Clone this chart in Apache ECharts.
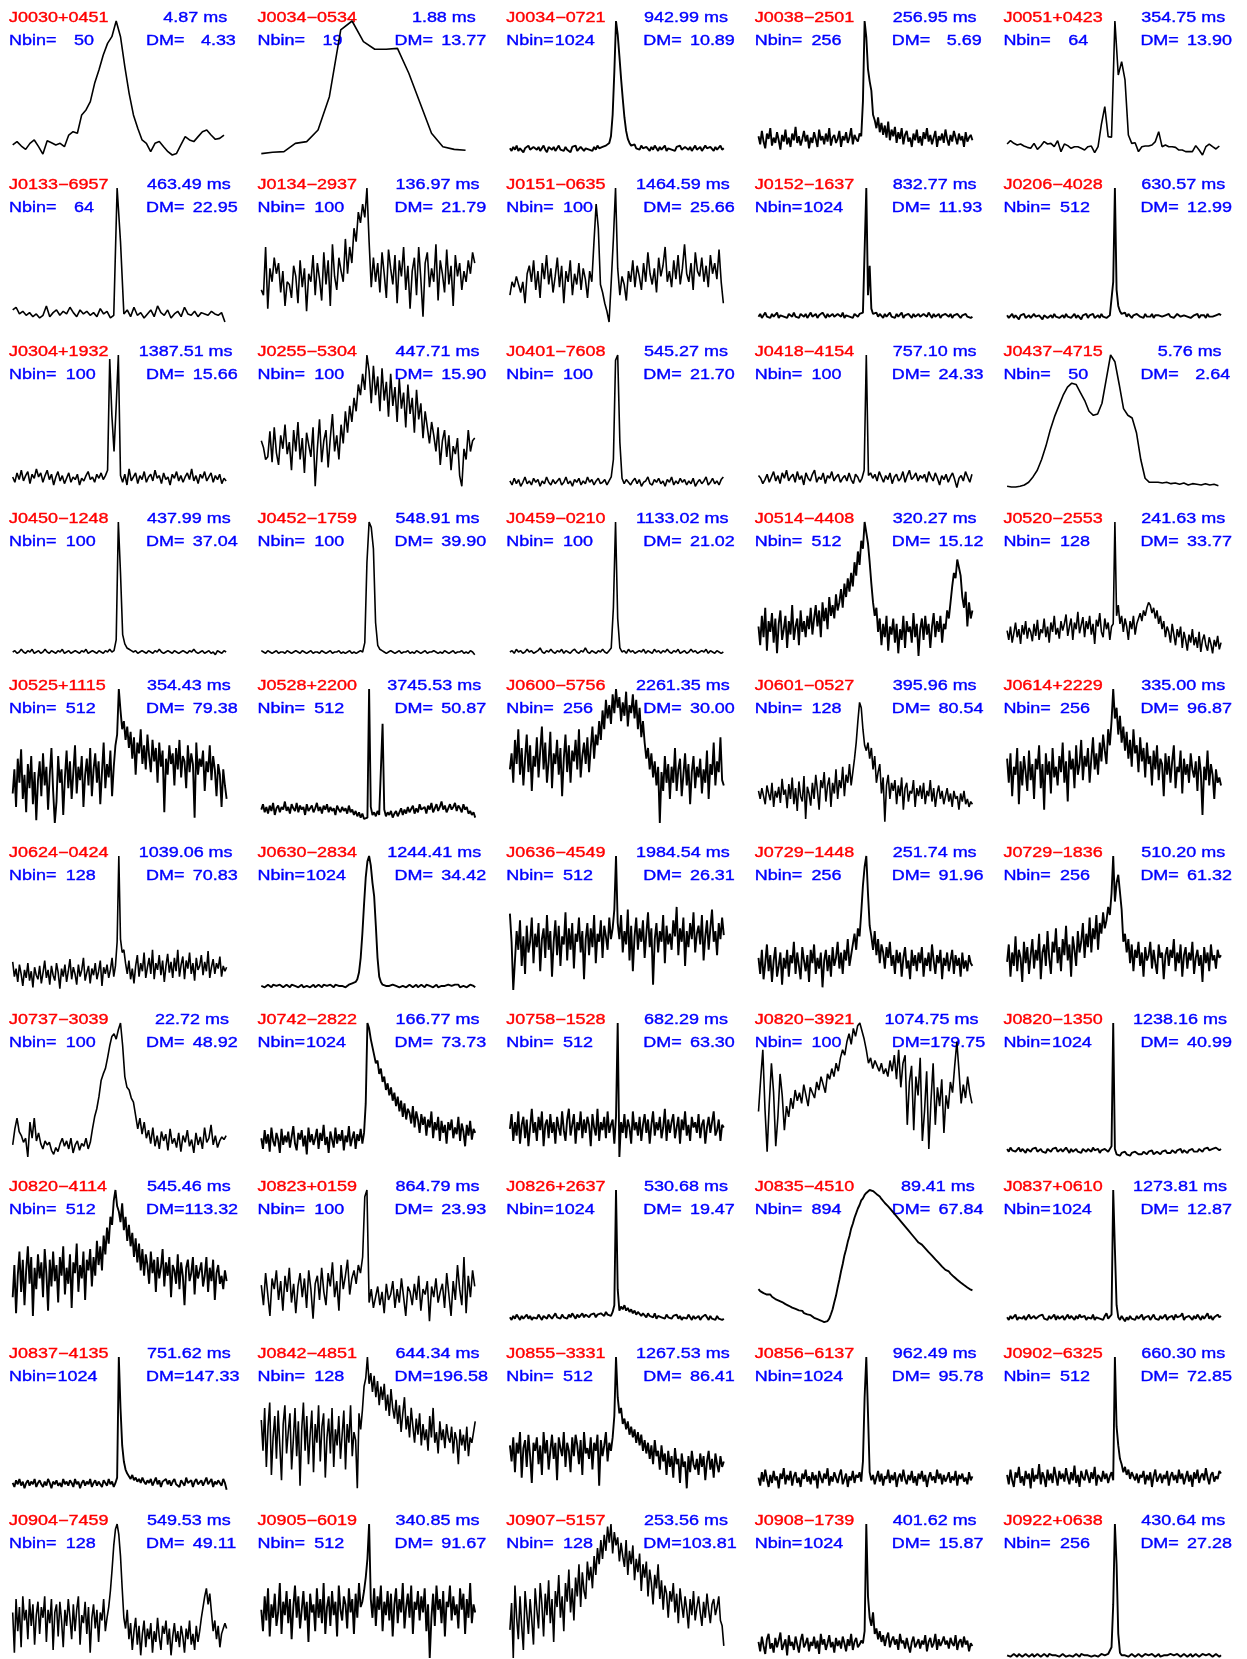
<!DOCTYPE html>
<html>
<head>
<meta charset="utf-8">
<script src="https://cdn.jsdelivr.net/npm/echarts@6/dist/echarts.min.js"></script>
<style>
html,body{margin:0;padding:0;background:#fff}
#chart{width:1247px;height:1659px}
</style>
</head>
<body>
<div id="chart"></div>
<script>
// Pulsar names, periods (ms), number of profile bins and dispersion measures, in panel order
const names = [
  'J0030+0451','J0034\u22120534','J0034\u22120721','J0038\u22122501','J0051+0423',
  'J0133\u22126957','J0134\u22122937','J0151\u22120635','J0152\u22121637','J0206\u22124028',
  'J0304+1932','J0255\u22125304','J0401\u22127608','J0418\u22124154','J0437\u22124715',
  'J0450\u22121248','J0452\u22121759','J0459\u22120210','J0514\u22124408','J0520\u22122553',
  'J0525+1115','J0528+2200','J0600\u22125756','J0601\u22120527','J0614+2229',
  'J0624\u22120424','J0630\u22122834','J0636\u22124549','J0729\u22121448','J0729\u22121836',
  'J0737\u22123039','J0742\u22122822','J0758\u22121528','J0820\u22123921','J0820\u22121350',
  'J0820\u22124114','J0823+0159','J0826+2637','J0835\u22124510','J0837+0610',
  'J0837\u22124135','J0842\u22124851','J0855\u22123331','J0856\u22126137','J0902\u22126325',
  'J0904\u22127459','J0905\u22126019','J0907\u22125157','J0908\u22121739','J0922+0638'
];
const periods = [
  4.87, 1.88, 942.99, 256.95, 354.75,
  463.49, 136.97, 1464.59, 832.77, 630.57,
  1387.51, 447.71, 545.27, 757.10, 5.76,
  437.99, 548.91, 1133.02, 320.27, 241.63,
  354.43, 3745.53, 2261.35, 395.96, 335.00,
  1039.06, 1244.41, 1984.54, 251.74, 510.20,
  22.72, 166.77, 682.29, 1074.75, 1238.16,
  545.46, 864.79, 530.68, 89.41, 1273.81,
  751.62, 644.34, 1267.53, 962.49, 660.30,
  549.53, 340.85, 253.56, 401.62, 430.64
];
const nbins = [
  50, 19, 1024, 256, 64,
  64, 100, 100, 1024, 512,
  100, 100, 100, 100, 50,
  100, 100, 100, 512, 128,
  512, 512, 256, 128, 256,
  128, 1024, 512, 256, 256,
  100, 1024, 512, 100, 1024,
  512, 100, 1024, 894, 1024,
  1024, 128, 512, 1024, 512,
  128, 512, 128, 1024, 256
];
const dms = [
  4.33, 13.77, 10.89, 5.69, 13.90,
  22.95, 21.79, 25.66, 11.93, 12.99,
  15.66, 15.90, 21.70, 24.33, 2.64,
  37.04, 39.90, 21.02, 15.12, 33.77,
  79.38, 50.87, 30.00, 80.54, 96.87,
  70.83, 34.42, 26.31, 91.96, 61.32,
  48.92, 73.73, 63.30, 179.75, 40.99,
  113.32, 23.93, 19.47, 67.84, 12.87,
  147.33, 196.58, 86.41, 95.78, 72.85,
  49.11, 91.67, 103.81, 15.87, 27.28
];

// Pulse profiles, intensity normalised to 0..100 (wide profiles resampled to 128 points)
const profiles = [
  // J0030+0451
  [7.5,10,6.7,4.2,8.7,11.2,6.2,0.7,10.7,9.2,7.5,8.7,6.2,14.9,17.4,16.2,29.9,33.6,39.8,53.5,
   63.4,74.6,83.3,88.3,100,88.3,65.9,46,29.9,19.9,11.2,8.7,2.5,8.7,10,6.2,2.5,0,1.2,7.5,
   13.7,11.2,10,13.7,17.4,18.7,14.9,11.7,12.4,14.9],
  // J0034-0534
  [1,2,2.5,8.7,10,18.7,43.5,93.3,100,84.6,78.9,78.9,79.6,61,38.6,16.2,6.2,4.2,3.5],
  // J0034-0721
  [5,3,6,4,7,3,5,6,2,5,4,7,4,3,6,5, 4,6,3,5,7,4,2,6,5,4,6,3,5,7,4,5,
   3,6,4,5,2,6,5,7,3,4,6,5,3,5,6,4, 5,3,6,4,7,5,4,6,5,7,6,9,14,30,62,100,
   90,74,57,42,28,18,12,9,7,6,8,5,6,4,7,5, 4,6,5,3,6,4,7,5,3,6,4,5,7,3,5,6,
   4,5,3,6,5,7,4,3,6,5,4,6,3,5,7,4, 5,6,3,4,7,5,4,6,5,3,6,4,5,7,4,5],
  // J0038-2501
  [14,8,18,10,5,16,12,20,7,13,9,17,11,4,15,10, 19,8,13,6,16,11,21,9,14,7,12,18,10,15,5,13,
   9,17,12,6,19,11,14,8,16,10,20,7,13,15,9,12, 18,6,14,11,17,9,13,20,8,15,12,10,16,14,40,100,
   88,64,55,48,30,26,20,28,17,24,15,22,13,25,11,19, 14,21,9,17,12,20,8,15,18,10,13,6,16,11,19,9,
   14,7,17,12,20,10,15,8,13,18,6,14,11,16,9,19, 12,7,15,10,18,13,8,16,11,14,6,17,10,13,15,11],
  // J0051+0423
  [8.2,10.7,8.7,7.5,8.2,6.7,5.7,5,8.7,4.2,6.7,10,8.2,8.7,6.2,10.7,2.5,8.2,7,5,
   6.2,6.2,5,3.7,6.2,6.7,1.7,6.2,23.1,36.1,13.7,13.2,100,59.7,69.7,56,14.9,8.7,9.2,2.5,
   6.2,6.7,6.7,7.5,10,17.4,6.2,7.5,6.2,6.2,5.7,3.7,3.7,2.5,2.5,2.5,7,3.7,0,6.2,
   8.2,6.2,4.5,6.7],

  // J0133-6957
  [9,11,6,8,5,7,4,6,3,5,12,4,7,9,5,8,6,11,7,4,9,6,8,5,7,4,10,6,8,3,5,100,
   60,6,9,4,11,5,7,3,6,9,4,12,7,5,9,3,6,8,4,11,6,5,8,4,7,6,5,8,6,5,7,0],
  // J0134-2937
  [24,20,56,10,40,30,48,36,44,22, 38,12,30,28,18,42,34,14,46,26, 40,8,36,30,50,20,44,32,16,52,
   28,46,12,58,34,24,48,38,30,62, 36,56,44,70,60,82,74,88,78,100, 60,26,48,30,44,22,52,36,18,54,
   40,28,50,14,46,34,56,24,42,10, 38,48,20,56,32,4,44,52,26,40, 30,58,16,46,36,22,54,28,42,12,
   50,34,44,24,38,30,46,36,52,44],
  // J0151-0635
  [20,30,26,34,28,22,30,14,36,42, 30,46,24,38,18,44,32,50,28,40, 22,34,48,26,42,14,38,30,46,20,
   36,28,44,24,40,32,18,38,30,60, 88,70,28,22,14,8,0,30,62,100, 40,20,34,28,16,38,30,46,26,42,
   34,24,44,30,52,36,28,40,22,48, 34,42,56,30,38,26,46,32,50,28, 40,58,36,30,44,24,52,38,34,48,
   30,42,26,50,36,44,32,54,30,14],
  // J0152-1637
  [4,6,3,5,7,4,5,3,6,4,5,7,3,5,6,4, 5,3,6,5,4,7,4,5,3,6,5,4,6,3,5,7,
   4,5,6,3,5,4,7,5,3,6,4,5,6,4,3,6, 5,4,7,3,5,6,4,5,3,6,5,4,6,5,7,8,
   100,20,42,10,6,5,7,4,6,5,3,6,4,5,7,4, 5,3,6,4,5,7,3,5,4,6,5,3,6,4,5,6,
   4,3,6,5,4,7,5,3,6,4,5,6,3,5,4,6, 5,4,6,3,5,4,6,5,3,5,4,6,4,5,3,4],
  // J0206-4028
  [5,3,4,6,3,5,4,2,5,4,6,3,4,5,3,4, 6,4,3,5,4,2,5,6,3,4,5,3,6,4,5,3,
   4,5,3,6,4,5,3,4,6,3,5,4,2,5,4,6, 3,5,4,6,3,4,5,3,6,4,5,3,4,5,6,30,
   100,24,12,8,6,5,7,4,6,5,3,5,4,6,5,4, 5,3,6,4,5,4,6,3,5,4,5,6,4,3,5,4,
   6,4,5,3,4,6,5,4,3,5,6,4,5,3,4,5, 4,6,3,5,4,5,3,6,4,5,4,3,5,4,6,5],

  // J0304+1932
  [9,5,12,7,14,6,10,13,4,11, 8,15,9,12,5,10,14,7,11,3, 9,13,6,10,4,8,12,5,9,7,
   11,3,8,6,10,13,7,9,5,11, 8,12,7,10,14,97,55,28,62,100, 10,5,11,3,15,6,9,12,4,10,
   7,13,5,9,11,6,14,8,10,4, 12,7,9,3,11,8,13,6,10,5, 9,12,7,15,6,10,4,11,8,13,
   6,9,12,5,10,7,11,4,8,6],
  // J0255-5304
  [36,31,22,24,43,20,46,27,18,40, 30,48,26,35,14,44,28,50,22,38, 12,42,33,24,46,2,30,52,20,36,
   44,16,38,56,28,40,22,48,34,58, 42,62,50,68,58,78,70,86,74,100, 88,64,92,70,84,58,90,66,80,54,
   86,62,76,50,82,60,72,46,78,56, 68,42,74,52,64,38,58,46,34,50, 40,28,46,18,36,44,24,40,14,32,
   26,38,10,2,30,22,44,28,36,38],
  // J0401-7608
  [6,3,8,4,7,2,5,9,4,6, 3,8,5,7,2,6,4,9,5,3, 7,4,6,8,3,5,9,4,6,2, 7,5,8,3,6,4,9,5,7,3,
   6,8,4,5,7,3,6,9,22,96, 100,35,8,4,7,5,3,6,8,4, 7,2,5,6,9,4,3,7,5,8, 4,6,2,7,5,9,3,6,4,8,
   5,7,3,6,4,8,2,5,7,4, 6,9,3,5,8,4,6,3,7,9],
  // J0418-4154
  [10,8,4,7,11,5,9,13,6,10, 4,12,8,14,6,9,11,5,13,7, 10,3,12,8,6,11,14,5,9,7, 12,4,10,8,13,6,9,11,5,8,
   10,6,12,7,4,11,9,5,8,14, 100,10,12,8,11,6,13,9,5,10, 7,12,4,9,11,6,8,13,5,10, 14,7,9,12,6,10,8,11,5,13,
   9,6,12,8,3,10,7,11,5,9, 12,7,1,8,10,6,13,9,5,11],
  // J0437-4715
  [2,1.5,1.5,2,3,5,9,14,22,32,44,54,62,70,76,79,78,72,66,58,55,56,64,82,100,
   95,78,60,55,53,42,22,8,5,5,5,4.5,5,4,4.5,3.5,4.5,3,4,3.5,3,4,3,3.5,2.5],

  // J0450-1248
  [3,4,2,3,5,3,2,4,3,5, 2,3,4,2,3,5,3,2,4,3, 2,4,3,5,2,3,4,2,3,4, 3,2,4,3,5,2,3,4,3,2,
   4,3,2,4,3,5,3,4,12,100, 62,16,9,6,5,4,3,4,2,3, 4,3,2,4,3,2,4,3,5,3, 2,3,4,3,2,4,3,2,3,4,
   3,2,4,3,5,3,2,3,4,2, 3,4,2,3,1,4,3,2,4,3],
  // J0452-1759
  [4,3,2,4,3,2,3,4,2,3, 3,2,4,3,2,3,4,3,2,4, 3,2,3,4,2,3,3,2,4,3, 2,3,4,2,3,3,4,2,3,2,
   3,4,2,3,2,3,4,3,10,70, 100,96,80,25,8,5,4,3,2,3, 4,3,2,3,4,2,3,3,4,2, 3,2,4,3,2,3,4,2,3,3,
   4,3,2,3,2,4,3,2,3,4, 2,3,3,4,2,3,2,4,3,1],
  // J0459-0210
  [3,4,2,5,3,4,2,3,5,3, 4,2,3,4,6,3,2,4,3,5, 3,2,4,3,5,2,4,3,2,4, 5,3,2,4,3,6,3,2,4,3,
   2,4,3,5,3,2,4,6,36,100, 28,6,3,4,2,5,3,4,2,3, 4,3,5,2,4,3,2,5,3,4, 2,4,3,5,3,2,4,3,5,2,
   3,4,2,3,5,3,4,2,3,4, 3,5,2,4,3,2,4,3,2,3],
  // J0514-4408
  [22,8,30,14,36,4,26,18,32,10,28,2,24,34,12,20, 30,6,26,16,38,12,22,28,8,34,18,26,14,30,20,36,
   16,28,38,22,34,14,40,26,36,20,44,30,38,28,46,34, 40,50,36,54,44,58,48,62,52,70,60,78,68,86,80,100,
   92,84,70,54,40,30,36,18,28,8,24,14,30,4,22,16, 28,10,24,2,20,12,30,6,26,18,22,10,32,14,24,0,
   20,28,12,30,16,24,6,22,32,14,26,18,30,10,24,20, 34,28,40,52,62,58,72,66,60,44,36,48,22,40,28,34],
  // J0520-2553
  [19,12,22,10,17,25,14,20,9,23,16,26,13,21,18,11, 24,15,27,12,20,17,28,14,22,10,25,18,30,16,21,13,
   26,19,24,31,15,22,28,12,25,20,33,17,23,29,14,26, 20,30,16,24,9,27,22,32,18,14,28,20,25,12,22,24,
   100,30,38,24,30,18,28,22,12,26,20,30,16,24,28,32, 26,34,30,36,40,38,32,36,28,34,24,30,20,26,14,22,
   18,10,24,16,8,20,14,22,6,18,12,4,16,10,20,8, 14,6,18,3,12,16,8,4,14,9,2,12,7,15,5,10],

  // J0525+1115
  [22,40,12,48,30,55,18,36,8,44,26,50,14,38,2,32, 46,20,52,28,42,10,36,56,24,0,16,50,30,40,6,34,
   54,26,46,18,38,58,22,42,32,50,12,36,48,28,56,20, 40,52,30,46,14,38,60,26,44,34,54,20,42,58,66,100,
   84,70,76,62,72,56,68,48,64,36,60,52,70,44,58,40, 66,50,38,62,46,56,30,60,42,54,8,48,36,58,44,52,
   28,56,40,62,34,50,46,26,58,38,52,44,4,60,36,48, 42,54,24,46,38,58,32,50,40,20,44,36,12,40,28,18],
  // J0528+2200
  [10,14,8,12,7,13,9,15,6,11,13,8,12,10,16,9, 12,7,14,11,9,15,8,13,10,12,6,14,9,11,13,8,
   11,15,9,12,7,13,10,14,8,12,9,11,6,13,10,8, 12,9,11,7,13,8,10,6,9,5,8,4,7,3,2,4,
   100,12,6,8,5,9,6,7,74,10,5,8,6,9,4,7, 9,5,8,11,6,10,7,12,8,9,13,7,11,8,14,10,
   9,12,7,13,10,15,8,11,14,9,12,16,10,13,8,11, 14,10,12,15,9,13,11,8,14,10,12,7,9,6,8,4],
  // J0600-5756
  [40,52,30,62,44,70,36,56,28,48,66,38,58,24,50,42, 64,34,54,72,40,60,30,46,68,26,52,44,62,36,56,20,
   48,66,38,58,30,54,46,62,40,70,34,50,60,44,64,38, 56,72,48,66,58,76,62,84,70,92,78,88,74,96,82,100,
   86,94,76,90,80,98,72,88,82,96,78,92,70,86,64,76, 60,48,56,40,52,34,46,28,42,0,38,24,50,30,44,18,
   42,30,56,24,40,48,20,36,52,28,44,14,38,50,26,42, 34,48,22,40,30,54,18,44,36,60,28,46,38,64,32,28],
  // J0601-0527
  [24,18,26,20,14,28,22,17,30,12,24,19,27,15,33,21, 25,11,29,18,34,14,26,9,31,20,16,35,3,27,22,13,
   30,18,36,24,10,32,26,38,16,28,34,12,30,22,40,18, 32,26,42,20,36,30,44,28,38,48,60,76,90,86,70,58,
   54,60,48,56,40,50,30,38,44,22,34,1,28,36,18,30, 24,32,14,28,20,34,10,26,30,16,24,22,32,12,26,20,
   28,18,30,14,24,20,32,16,26,12,22,28,18,24,14,20, 26,16,22,12,24,18,20,10,22,16,24,14,18,12,16,14],
  // J0614+2229
  [48,30,52,20,42,36,56,14,46,28,50,38,24,54,32,44, 18,48,40,58,26,44,10,52,36,46,22,56,34,42,28,50,
   38,60,30,46,16,54,40,48,26,58,36,44,62,32,50,42, 56,30,48,64,40,52,36,60,46,66,54,44,70,58,76,100,
   78,86,66,80,60,72,54,68,48,62,42,70,52,58,38,64, 46,56,34,60,44,50,28,54,40,58,32,48,44,20,52,36,
   50,30,46,58,26,42,38,54,22,48,36,44,30,52,40,34, 46,24,50,38,6,42,32,54,28,44,36,18,40,30,34,28],

  // J0624-0424
  [21,10,16,6,19,12,3,15,9,20,7,14,2,17,11,8, 18,5,13,22,9,15,4,18,11,7,20,13,1,16,10,19,
   6,14,23,8,17,12,4,19,10,15,24,7,13,18,5,16, 11,20,8,14,22,3,17,12,19,9,15,24,10,18,36,100,
   38,28,30,20,12,22,8,16,5,18,26,10,20,14,28,9, 17,24,12,30,8,20,15,26,11,22,6,18,27,13,21,9,
   24,14,30,10,19,25,8,22,16,28,12,20,7,24,15,18, 26,11,21,14,29,9,17,23,12,20,16,25,10,18,14,17],
  // J0630-2834
  [3,4,2,3,4,3,2,4,3,3,2,4,3,2,3,4, 3,2,4,3,3,4,2,3,4,2,3,3,4,2,3,4,
   2,3,4,3,2,4,3,3,2,4,3,2,4,3,3,4, 3,4,2,3,4,3,5,4,6,8,13,24,42,64,84,96,
   100,93,80,70,48,24,10,6,4,5,3,4,3,2,4,3, 3,4,2,3,3,4,2,3,4,3,2,3,4,2,3,4,
   3,2,4,3,3,4,2,3,4,2,3,3,4,3,2,4, 3,3,2,4,3,4,2,3,3,4,2,3,4,3,3,2],
  // J0636-4549
  [57,36,0,22,44,30,52,18,40,12,48,28,36,54,20,42, 32,50,14,38,46,24,56,30,44,10,36,52,26,48,18,40,
   34,58,22,46,30,50,16,42,36,54,28,44,8,38,50,26, 46,32,56,20,42,36,52,24,48,40,30,54,38,46,60,100,
   50,38,56,28,44,34,60,22,48,14,40,54,30,46,36,52, 24,42,58,32,46,4,38,50,28,44,36,56,20,48,34,42,
   30,52,40,62,26,46,36,54,18,44,32,50,38,58,28,42, 48,34,56,22,40,52,30,46,60,36,44,26,50,38,54,41],
  // J0729-1448
  [24,12,30,8,20,34,14,26,6,22,32,10,18,28,4,24, 16,30,10,26,20,36,12,28,18,8,32,22,14,26,6,30,
   20,34,12,24,16,28,2,22,30,14,26,10,32,18,24,36, 16,28,12,30,22,38,18,26,34,42,30,46,40,58,78,92,
   100,72,48,40,30,44,26,38,20,34,28,16,32,24,36,18, 26,12,30,20,28,10,24,32,16,22,8,30,18,26,14,28,
   20,32,10,24,18,28,14,34,22,12,26,20,30,8,24,18, 28,14,22,30,12,26,18,24,10,28,16,22,14,26,20,18],
  // J0729-1836
  [21,34,10,28,18,40,14,30,24,6,36,20,32,12,26,38, 16,30,22,42,8,28,34,18,44,24,12,36,28,46,20,32,
   14,38,26,48,22,34,10,40,30,18,44,28,36,50,24,42, 32,54,28,46,38,56,30,50,42,58,46,52,62,56,72,100,
   66,80,86,73,60,36,42,28,38,20,34,14,30,24,36,18, 28,10,32,22,26,36,16,30,20,12,34,24,28,8,26,32,
   18,30,24,38,14,28,20,34,10,26,32,16,28,22,36,12, 24,30,18,26,6,32,20,28,14,34,22,26,16,30,24,26],

  // J0737-3039
  [9,21,29,19,16,11,14,0,26,14, 29,12,18,10,6,12,9,11,5,2, 7,4,10,14,8,12,6,14,3,9,
   12,5,10,8,14,6,11,21,30,36, 45,57,62,66,74,83,90,92,88,95, 100,83,60,52,50,44,41,31,21,29,
   17,26,14,20,10,22,8,16,6,19, 12,17,5,21,10,14,7,18,4,16, 11,20,8,13,3,18,9,15,6,22,
   11,14,24,9,16,7,12,15,13,16],
  // J0742-2822
  [14,6,20,10,17,4,22,12,8,18,13,3,21,9,16,11, 19,7,15,23,10,5,18,13,20,8,16,2,22,11,17,9,
   14,21,6,18,12,24,9,15,3,19,13,7,22,10,17,12, 20,5,16,11,23,8,14,19,6,17,12,21,10,18,40,100,
   96,88,82,76,70,72,62,66,56,60,50,55,46,52,42,48, 38,45,34,42,30,40,28,36,33,25,38,22,34,28,18,32,
   24,30,16,28,22,34,14,26,20,30,12,27,18,24,10,26, 20,28,14,22,17,30,12,25,19,8,24,16,27,13,21,18],
  // J0758-1528
  [21,32,12,26,16,34,10,24,30,14,28,8,22,36,18,26, 12,30,20,34,8,24,28,14,32,18,26,10,30,22,16,34,
   20,12,28,36,16,24,32,10,26,20,34,14,28,18,30,24, 8,32,22,16,36,12,26,20,30,14,34,18,24,28,10,30,
   100,0,26,18,32,14,28,22,10,34,20,26,16,30,12,24, 32,18,28,10,24,34,16,26,20,30,14,22,36,12,28,18,
   26,32,14,22,30,10,28,20,34,16,24,12,30,22,26,18, 32,14,24,28,10,22,30,18,26,34,16,20,28,12,24,22],
  // J0820-3921
  [34,58,80,36,4,40,70,48,8,30, 62,46,20,38,30,44,36,50,42,48, 40,54,46,38,52,48,44,56,50,60,
   54,48,62,58,66,60,70,64,74,80, 76,86,92,84,96,90,98,100,94,88, 80,70,74,66,72,68,64,70,62,66,
   60,72,64,76,58,80,52,70,76,24, 56,68,20,60,46,74,12,34,64,6, 42,70,24,52,38,58,18,46,36,56,
   48,68,86,64,40,54,44,60,48,40],
  // J0820-1350
  [6,4,7,5,6,4,5,7,4,6,5,3,6,5,4,6, 5,7,4,5,6,4,5,3,6,5,4,6,5,7,4,5,
   6,4,5,7,5,3,6,4,5,6,4,5,3,6,5,4, 6,5,4,7,5,4,6,3,5,4,6,5,4,5,8,100,
   6,2,3,1,3,2,4,2,3,1,3,2,4,3,2,3, 2,4,3,2,4,3,5,2,3,4,3,2,4,3,5,3,
   4,3,5,4,3,5,4,6,3,5,4,3,5,4,6,4, 5,4,6,5,4,6,5,7,5,4,6,5,7,6,5,6],

  // J0820-4114
  [20,44,8,36,54,24,48,14,40,58,30,50,6,42,26,52, 34,46,20,56,38,10,48,28,54,32,44,16,50,36,58,22,
   42,30,52,12,46,38,60,24,44,34,54,18,48,40,56,28, 50,36,62,44,58,40,66,52,72,60,80,74,92,100,88,84,
   76,90,70,80,62,74,58,68,50,64,46,60,40,56,36,52, 44,30,54,38,48,24,50,34,42,56,28,46,36,50,20,44,
   40,30,52,26,46,36,14,42,48,32,38,50,22,44,34,40, 46,28,36,50,24,42,32,48,18,38,44,30,36,26,40,32],
  // J0823+0159
  [29,14,38,22,6,34,26,40,18,32, 10,36,24,42,16,30,8,28,38,20, 34,12,40,26,4,30,36,18,42,24,
   14,38,28,46,20,32,10,44,26,36, 48,22,34,40,30,44,38,50,95,100, 16,26,12,20,28,14,24,8,30,18,
   22,32,12,26,16,34,20,6,28,24, 14,30,18,36,10,26,22,32,2,28, 20,34,16,24,30,12,38,22,6,32,
   18,44,26,14,50,8,36,20,40,28],
  // J0826+2637
  [5,3,6,4,7,5,3,6,4,5,7,4,6,3,5,6, 4,7,5,3,6,5,4,7,6,4,5,8,5,6,4,7,
   5,6,4,7,5,8,6,4,7,5,6,8,5,7,6,5, 7,6,8,5,7,6,8,7,6,9,7,8,6,9,14,100,
   26,10,13,11,14,10,12,9,11,8,10,7,9,8,6,8, 7,5,8,6,7,5,8,4,6,7,5,6,4,7,5,6,
   4,6,5,7,4,6,3,5,6,4,7,5,3,6,4,5, 6,3,5,4,7,5,3,6,4,5,3,6,4,5,3,4],
  // J0835-4510
  [26,24.5,25,23,23.8,22,21.5,22,20.3,19.8,18.6,19.2,17.5,17,16.4,15.9,
   14.8,14.5,13.6,13.3,12.2,12.8,11.2,10.8,10.2,9.2,9.8,8.1,7.7,7.2,6.1,6.6,
   5.2,4.6,4.1,3.6,2.9,2.6,1.8,1.4,1,2.2,4,7.3,11,16.2,21,27.3,
   33,39.4,44.8,51.2,55.8,61.3,65.7,71.2,74.8,79.3,82.7,86.2,88.8,92.2,93.8,96.3,
   97.8,99.2,100,99.3,99.2,97.8,97.1,95.8,95.2,93.3,92.2,90.3,89.2,87.8,86.7,84.8,
   83.7,81.8,80.7,78.8,77.7,75.8,74.7,72.8,71.7,69.8,68.7,66.8,65.7,63.8,62.7,60.8,
   61,59.2,58.2,56.4,55.2,53.6,52.8,51,49.8,48.2,46.8,45.6,44.2,42.8,41.6,40.4,
   40,39.2,37.6,36.8,35.2,34.5,33,32.4,31,30.3,29.1,28.4,27.3,26.8,25.6,25.2],
  // J0837+0610
  [5,3,6,4,5,7,3,5,6,4,6,3,5,7,4,5, 6,4,3,6,5,7,4,5,3,6,4,5,7,3,6,4,
   5,6,3,5,7,4,6,5,3,6,4,7,5,4,6,3, 5,6,4,7,3,5,6,4,5,3,6,8,4,5,7,100,
   56,14,5,3,6,4,2,5,3,6,4,5,3,6,4,5, 7,3,5,4,6,3,5,7,4,5,3,6,4,5,7,3,
   5,4,6,3,7,5,4,6,8,3,5,4,6,5,3,6, 4,7,5,3,6,4,5,8,4,6,3,5,4,7,5,6],

  // J0837-4135
  [6,3,8,5,9,4,7,2,6,8,4,7,5,9,3,6, 8,5,3,7,4,9,6,2,7,5,8,4,6,3,9,5,
   7,4,8,6,3,9,5,7,2,6,8,4,7,5,9,3, 6,8,4,7,5,3,8,6,4,9,5,7,3,6,10,100,
   62,34,22,16,13,11,9,12,8,10,7,9,6,10,7,5, 8,6,9,4,7,10,5,8,3,7,6,9,5,8,4,7,
   9,5,6,3,8,7,4,10,6,5,8,3,7,9,5,6, 8,4,7,10,5,6,9,3,7,5,8,6,4,9,6,1],
  // J0842-4851
  [53,30,62,18,48,66,12,40,56,24,60,34,8,50,64,28, 44,58,16,38,62,26,52,4,46,66,30,56,20,42,60,14,
   50,36,64,22,48,58,10,40,54,28,62,18,46,34,56,24, 42,60,16,50,36,64,26,44,38,2,58,46,60,78,84,100,
   80,88,74,86,70,82,64,78,68,80,60,72,56,76,62,54, 68,50,64,44,58,70,46,56,40,62,48,36,54,42,58,34,
   50,38,46,30,56,40,62,36,44,28,52,38,46,32,50,40, 36,48,28,44,38,20,46,34,42,30,48,26,40,36,44,52],
  // J0855-3331
  [34,22,40,14,36,28,44,10,32,38,18,42,26,6,36,30, 40,20,34,12,44,28,38,16,30,42,24,36,8,40,32,26,
   44,18,36,30,14,40,26,42,34,20,38,12,44,28,32,24, 40,16,36,30,42,4,38,26,34,44,22,36,30,40,56,100,
   70,58,62,50,54,46,52,42,48,40,46,36,44,34,42,30, 38,28,36,24,34,20,38,26,30,16,34,22,28,12,30,18,
   26,10,32,20,24,6,28,18,22,2,26,14,30,20,16,24, 12,28,18,26,8,22,30,16,24,10,28,20,14,26,18,22],
  // J0856-6137
  [10,4,14,7,16,9,3,12,6,15,8,11,2,13,9,17, 5,12,8,15,4,11,14,6,10,3,13,9,16,7,11,5,
   14,8,12,2,15,10,6,13,9,17,4,11,7,14,10,6, 12,16,5,9,13,3,11,8,15,6,12,10,14,7,22,70,
   100,58,14,8,12,5,10,15,7,13,4,11,9,16,6,12, 8,14,3,10,13,7,16,9,5,12,8,15,6,11,4,13,
   9,15,7,12,3,10,14,8,11,6,16,9,13,5,12,7, 10,14,6,11,8,15,4,12,9,13,7,10,5,14,8,11],
  // J0902-6325
  [12,5,16,8,3,14,10,18,6,11,4,15,9,13,2,17, 7,12,9,20,5,14,10,3,16,8,13,6,18,11,4,15,
   9,13,7,17,10,5,14,8,19,6,12,3,15,10,8,16, 11,6,14,9,18,4,12,10,7,15,9,13,6,11,14,8,
   100,48,34,24,20,14,18,12,16,9,14,11,8,13,6,12, 10,15,5,12,8,14,3,11,16,7,10,13,6,12,9,15,
   4,11,14,8,12,6,16,9,13,5,10,15,7,12,3,14, 9,16,6,11,13,8,17,10,5,12,14,7,11,9,15,13],

  // J0904-7459
  [34,4,44,20,38,8,46,28,36,14,44,24,40,10,32,42, 18,38,30,46,12,36,26,44,6,34,40,16,42,28,8,36,
   24,44,30,14,40,20,36,46,10,32,26,42,18,38,4,30, 40,22,36,12,34,28,44,20,30,38,50,66,84,96,100,92,
   76,52,30,22,36,14,26,6,20,30,10,24,2,18,28,8, 22,14,26,4,20,12,30,16,6,24,18,28,10,22,2,16,
   26,12,20,8,24,16,4,22,14,28,10,18,6,24,12,20, 30,38,46,52,40,48,34,20,28,14,24,8,18,22,26,22],
  // J0905-6019
  [36,20,46,28,52,16,40,30,48,24,34,56,18,42,32,50, 26,44,14,38,54,30,46,22,36,50,28,42,12,48,34,40,
   20,52,30,44,26,56,18,38,46,24,50,32,42,16,54,36, 28,46,40,22,52,34,44,18,48,30,56,38,42,50,60,74,
   100,44,30,52,24,46,36,54,20,42,32,50,28,48,16,40, 52,26,44,34,56,22,38,48,30,54,18,42,36,50,28,46,
   34,52,20,40,0,30,48,24,54,36,44,26,50,16,42,38, 54,28,46,32,40,22,52,36,48,18,44,30,56,26,40,34],
  // J0907-5157
  [21,41,0,54,30,14,46,24,6,50,34,18,44,28,10,52, 36,22,56,40,16,48,32,58,26,44,12,50,38,62,30,46,
   20,56,42,66,34,52,28,60,46,70,38,64,50,44,72,58, 68,52,76,62,82,70,88,74,92,80,98,86,100,78,94,84,
   90,72,86,76,68,88,62,80,70,84,58,74,64,78,50,70, 60,72,46,66,56,40,62,52,70,44,58,36,54,48,30,50,
   42,56,34,48,26,52,40,30,46,36,22,44,32,50,28,38, 46,34,24,42,30,48,36,26,40,44,32,38,46,28,24,9],
  // J0908-1739
  [12,5,16,9,3,14,18,7,11,4,15,8,13,19,6,10, 14,2,17,9,12,6,16,10,4,13,18,8,11,15,5,12,
   9,16,7,13,3,18,10,14,6,11,17,8,12,4,15,9, 13,7,16,11,5,14,9,18,6,12,15,8,10,13,11,20,
   100,46,30,24,34,18,22,14,20,12,17,9,15,19,8,13, 16,10,14,6,18,11,13,7,15,9,4,12,16,8,11,14,
   7,13,10,17,5,12,15,8,11,18,6,14,9,12,16,10, 13,7,15,11,9,17,6,12,14,8,16,10,13,5,11,9],
  // J0922+0638
  [2,3,1,2,3,2,1,3,2,1,2,3,2,1,2,3, 1,2,3,2,1,2,3,2,1,3,2,2,1,2,3,1,
   2,3,2,1,2,2,3,1,2,3,2,1,3,2,2,1, 2,3,1,2,2,3,1,2,3,2,2,1,3,3,8,40,
   100,70,18,4,2,1,2,3,1,2,3,2,1,2,3,2, 1,2,3,2,2,1,3,2,1,2,3,1,2,2,3,2,
   1,3,2,2,1,3,2,1,2,3,2,1,2,3,1,2, 3,2,1,2,3,2,2,1,3,2,1,2,3,2,1,2]
];

// Panel layout
const COLS = 5;
const CELL_W = 248.6, CELL_H = 167;
const PLOT_W = 215.6, PLOT_H = 134;
const FONT = '14px "Liberation Sans", Arial, sans-serif';
const SX = 1.283;     // horizontal stretch of the annotation font
const PAD = 8.2;      // width of one padding blank in the fixed-width fields
const RED = '#ff0000', BLUE = '#0000ff';

function label(text, x, y, color) {
  return {
    type: 'text', x: x, y: y, scaleX: SX, silent: true,
    style: {
      text: text, fill: color, font: FONT,
      stroke: color, lineWidth: 0.35,
      textAlign: 'left', align: 'left',
      textVerticalAlign: 'middle', verticalAlign: 'middle'
    }
  };
}

const grid = [], xAxis = [], yAxis = [], series = [], graphic = [];

names.forEach(function (name, k) {
  const c = k % COLS, r = Math.floor(k / COLS);
  const ox = 9 + CELL_W * c, oy = CELL_H * r;
  const prof = profiles[k];

  grid.push({ left: ox + 3.7, top: oy + 21, width: PLOT_W, height: PLOT_H });
  xAxis.push({ gridIndex: k, type: 'value', min: 0, max: prof.length, show: false });
  yAxis.push({ gridIndex: k, type: 'value', min: 0, max: 100, show: false });
  series.push({
    type: 'line', xAxisIndex: k, yAxisIndex: k,
    data: prof.map(function (v, i) { return [i, v]; }),
    symbol: 'none', clip: false, silent: true, animation: false,
    lineStyle: { color: '#000', width: nbins[k] >= 256 ? 1.9 : 1.6 }
  });

  const pStr = periods[k].toFixed(2);
  const nStr = String(nbins[k]);
  const dStr = dms[k].toFixed(2);
  const y1 = oy + 18, y2 = oy + 40.8;

  graphic.push(label(name, ox, y1, RED));
  graphic.push(label(pStr + ' ms', ox + 129.7 + (7 - pStr.length) * PAD, y1, BLUE));
  graphic.push(label('Nbin=', ox, y2, BLUE));
  graphic.push(label(nStr, ox + 48.5 + (4 - nStr.length) * PAD, y2, BLUE));
  graphic.push(label('DM=', ox + 137, y2, BLUE));
  graphic.push(label(dStr, ox + 175.5 + (6 - dStr.length) * PAD, y2, BLUE));
});

const chart = echarts.init(document.getElementById('chart'), null, { renderer: 'canvas' });
chart.setOption({
  backgroundColor: '#ffffff',
  animation: false,
  grid: grid,
  xAxis: xAxis,
  yAxis: yAxis,
  series: series,
  graphic: { elements: graphic }
});
</script>
</body>
</html>
